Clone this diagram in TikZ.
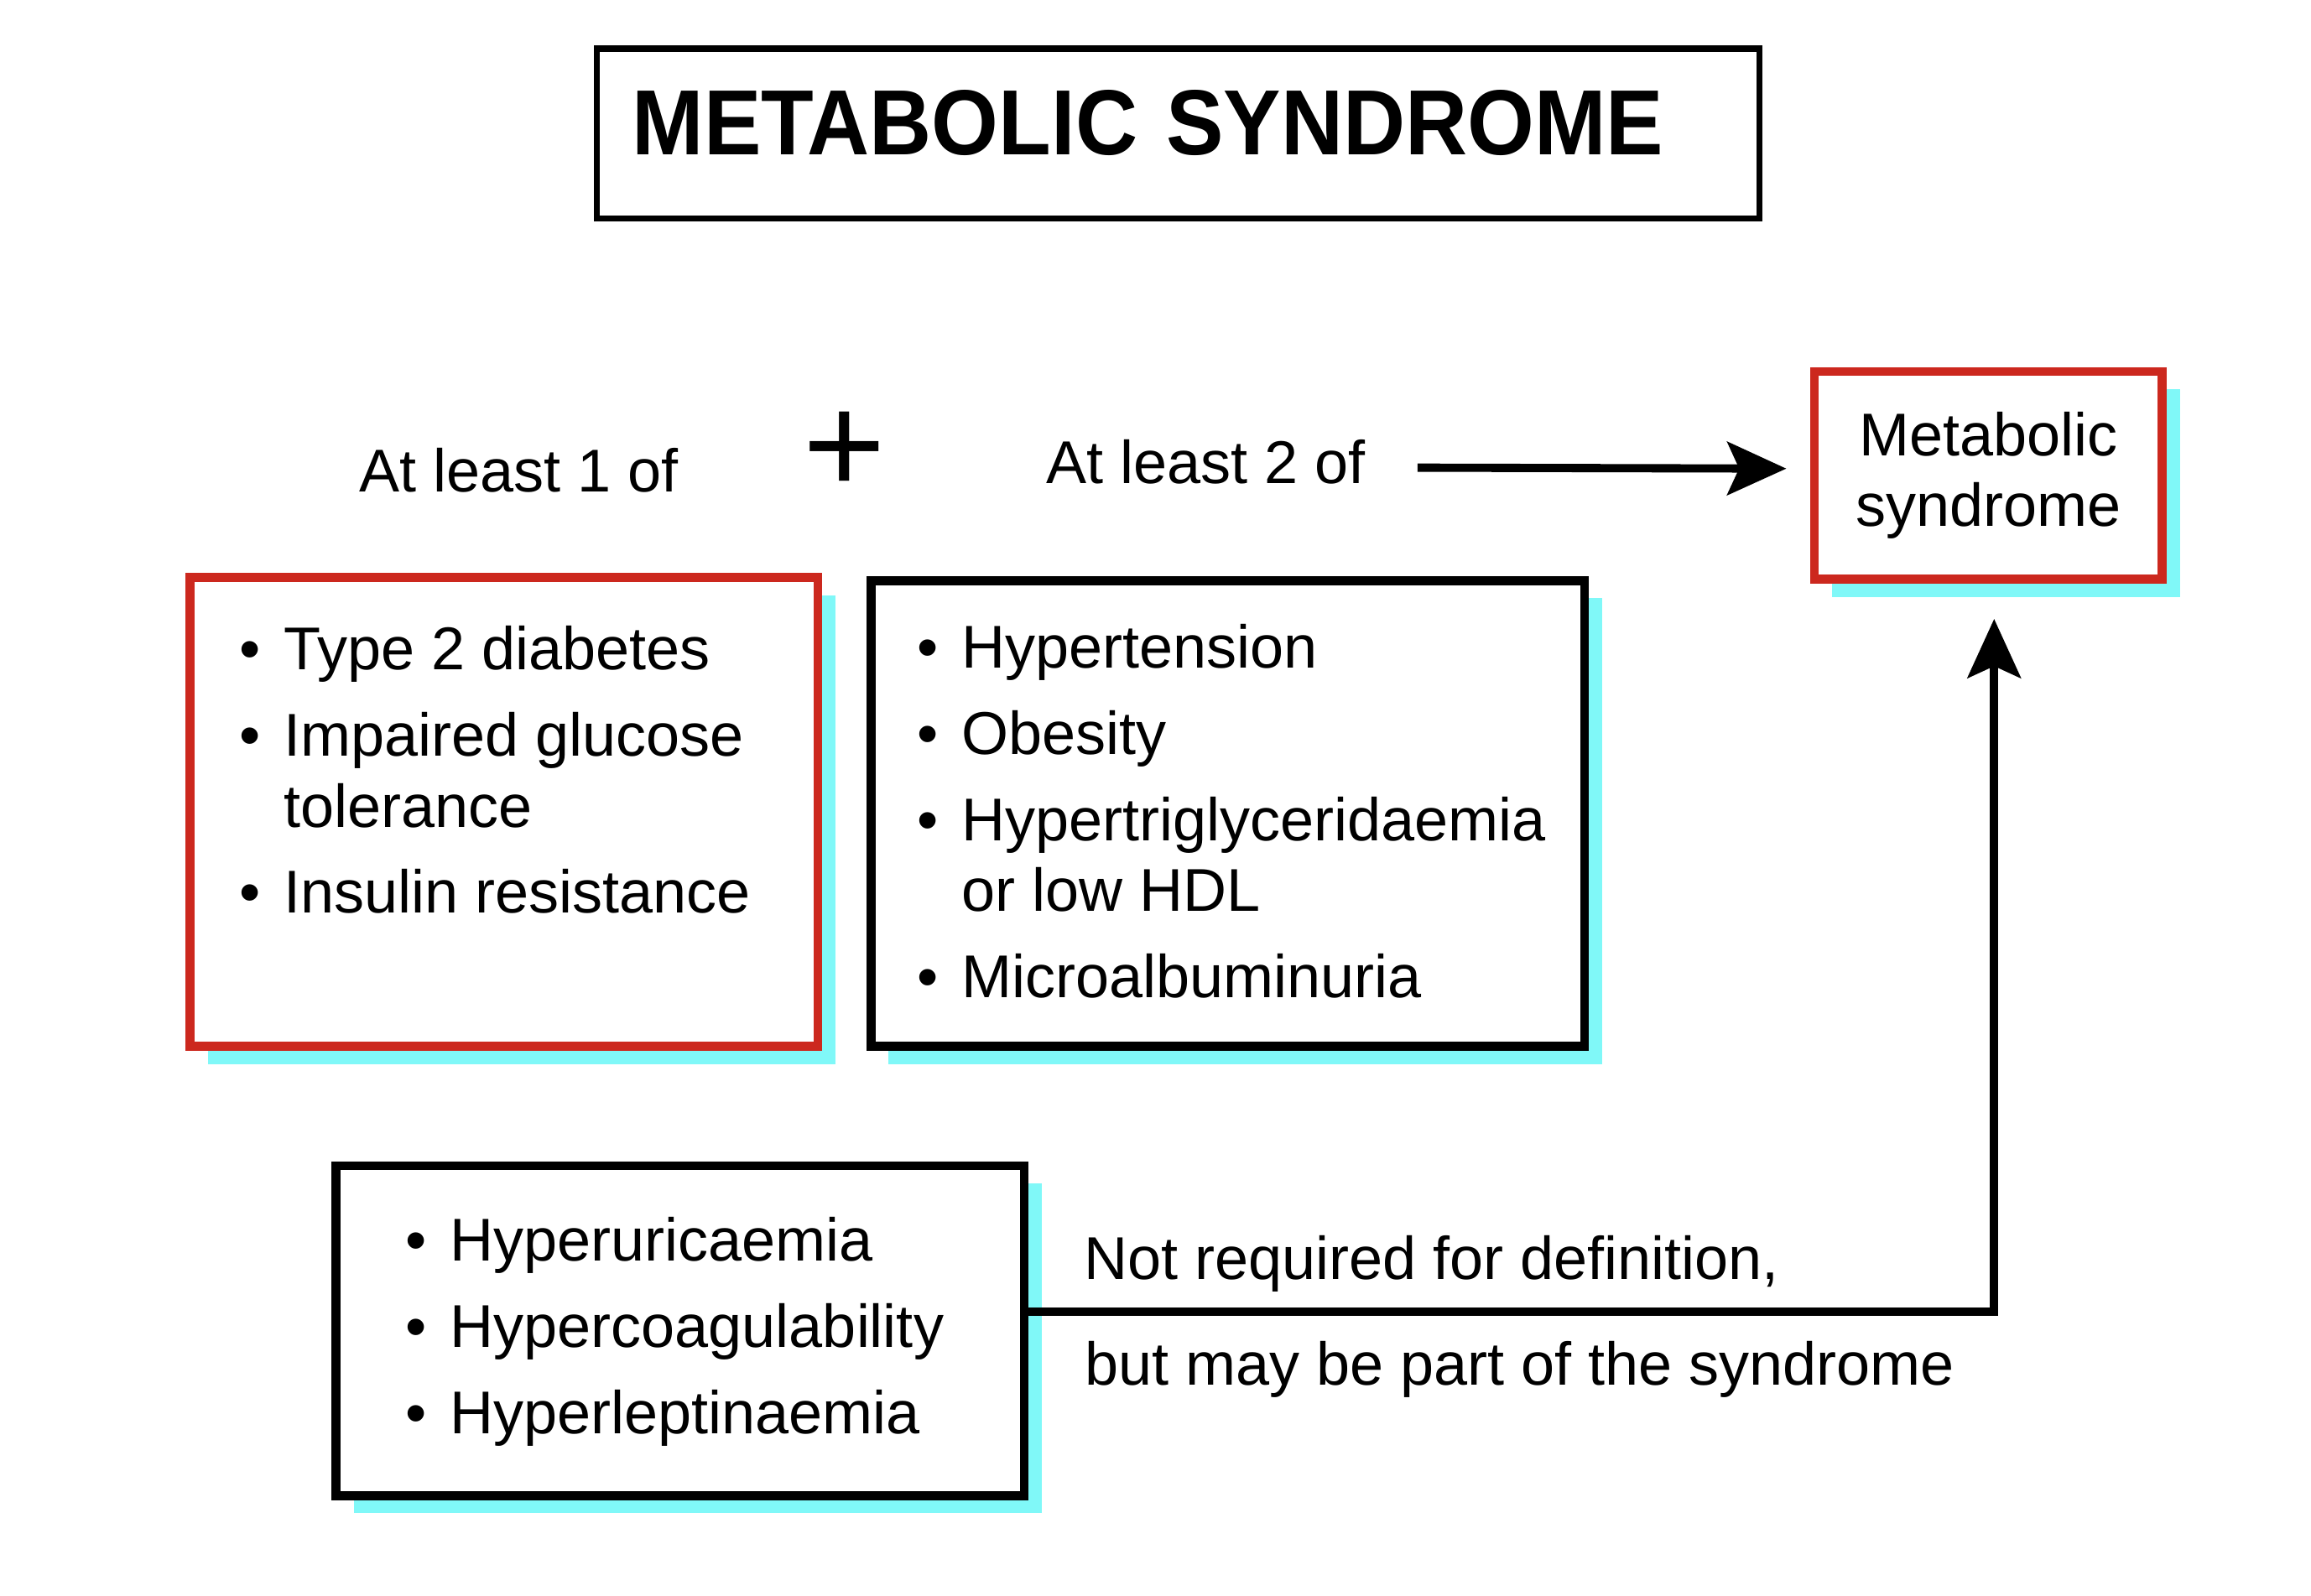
\documentclass[tikz,border=0pt]{standalone}
\usepackage{fontspec}
\setmainfont{Liberation Sans}
\usepackage{graphicx}
\usetikzlibrary{
    arrows.meta,
    positioning,
    shadows
}

\definecolor{boxred}{RGB}{204,40,30}
\definecolor{shadecyan}{RGB}{128,248,248}

\newcommand{\bul}{\makebox[15pt][l]{\textbullet}}
\newcommand{\nobul}{\hspace*{15pt}}

\begin{document}
\begin{tikzpicture}[
x=0.5pt, y=-0.5pt,
txt/.style={
font=\fontsize{20.5}{24}\selectfont,
inner sep=0pt
},
items/.style={
txt,
align=left
},
box/.style={
draw,
fill=white,
line width=3pt
},
shade/.style={
general shadow={fill=shadecyan, shadow xshift=6pt, shadow yshift=-6pt}
},
link/.style={
line width=2.8pt,
-{Stealth[length=20pt, width=18pt, inset=4pt]}
}
]

\useasboundingbox (0,0) rectangle (1568,1083);

\node[draw, line width=2pt,
minimum width=394.5pt, minimum height=57.5pt,
text width=370.5pt, align=left, inner xsep=12pt, inner ysep=0pt,
text height=22.5pt, text depth=8pt,
font=\fontsize{31.4}{32}\selectfont\bfseries] (title)
at (799.5,90.5) {\scalebox{0.93}[1]{METABOLIC SYNDROME}};

\node[txt, anchor=base west] (least1)
at (243.5,334) {At least 1 of};

\node[inner sep=0pt, font=\fontsize{48}{48}\selectfont] (plus)
at (573,307) {+};

\node[txt, anchor=base west] (least2)
at (709.5,328) {At least 2 of};

\node[box, draw=boxred, shade, txt, align=center,
minimum width=118pt, minimum height=70.5pt] (metsyn)
at (1349,322.5) {Metabolic\\syndrome};

\node[box, draw=boxred, shade,
minimum width=213pt, minimum height=159pt] (diab)
at (342,551) {};

\node[items, below right=17.8pt and 18pt of diab.north west] (diablist)
{\bul Type 2 diabetes\\[5.25pt]
\bul Impaired glucose\\
\nobul tolerance\\[5.25pt]
\bul Insulin resistance};

\node[box, shade,
minimum width=242pt, minimum height=158pt] (crit)
at (833,552) {};

\node[items, below right=16.1pt and 17pt of crit.north west] (critlist)
{\bul Hypertension\\[5.25pt]
\bul Obesity\\[5.25pt]
\bul Hypertriglyceridaemia\\
\nobul or low HDL\\[5.25pt]
\bul Microalbuminuria};

\node[box, shade,
minimum width=233.5pt, minimum height=112pt] (extra)
at (461.5,903) {};

\node[items, below right=18.8pt and 25pt of extra.north west] (extralist)
{\bul Hyperuricaemia\\[5.25pt]
\bul Hypercoagulability\\[5.25pt]
\bul Hyperleptinaemia};

\node[txt, anchor=base west] (note1)
at (735,868) {Not required for definition,};

\node[txt, anchor=base west] (note2)
at (735.5,940) {but may be part of the syndrome};

\draw[link]
([xshift=17.5pt,yshift=-2pt]least2.east)
-- ([xshift=-8pt,yshift=2.25pt]metsyn.west);

\draw[link]
([yshift=6.5pt]extra.east)
-| ([xshift=2pt,yshift=-12pt]metsyn.south);

\end{tikzpicture}
\end{document}
